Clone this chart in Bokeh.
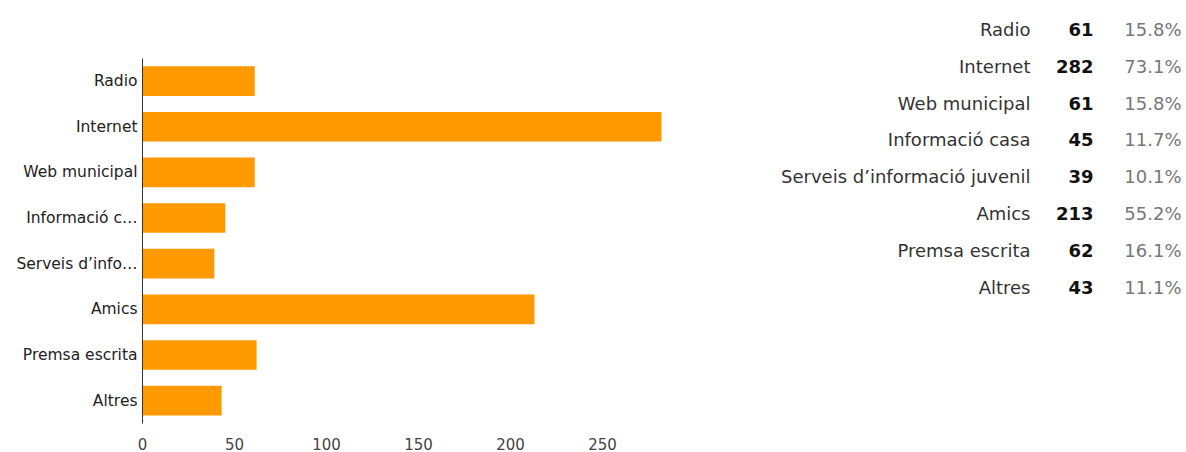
from bokeh.plotting import figure
from bokeh.models import Range1d, FixedTicker
from bokeh.core.properties import value
from bokeh.embed import file_html
from bokeh.resources import INLINE

categories = ["Radio", "Internet", "Web municipal", "Informació casa",
              "Serveis d’informació juvenil", "Amics", "Premsa escrita", "Altres"]
axis_labels = ["Radio", "Internet", "Web municipal", "Informació c…",
               "Serveis d’info…", "Amics", "Premsa escrita", "Altres"]
counts = [61, 282, 61, 45, 39, 213, 62, 43]
percents = ["15.8%", "73.1%", "15.8%", "11.7%", "10.1%", "55.2%", "16.1%", "11.1%"]
x_ticks = [0, 50, 100, 150, 200, 250]

FONT = "DejaVu Sans"
ORANGE = "#ff9900"

# layout (canvas px)
W, H = 1186, 452
FRAME_TOP = 0                 # frame spans the table area too
BAR_TOP, BAR_BOTTOM = 58, 425 # vertical extent of the bar chart / y axis
LEFT, BAR_RIGHT = 142, 661    # axis x position, end of the value axis

n = len(categories)
rows = list(range(n))

band = (BAR_BOTTOM - BAR_TOP) / n
y_top_val = -0.5 - (BAR_TOP - FRAME_TOP) / band
x_end_val = max(counts) * (W - LEFT) / (BAR_RIGHT - LEFT)

p = figure(width=W, height=H, output_backend="svg", toolbar_location=None,
           y_range=Range1d(n - 0.5, y_top_val),
           x_range=Range1d(0, x_end_val),
           min_border_left=LEFT, min_border_right=0,
           min_border_top=FRAME_TOP, min_border_bottom=H - BAR_BOTTOM)
p.hbar(y=rows, right=counts, left=0, height=0.65,
       fill_color=ORANGE, line_color=None)
p.outline_line_color = None
p.grid.visible = False

p.xaxis.ticker = FixedTicker(ticks=x_ticks)
p.xaxis.axis_line_color = None
p.xaxis.major_tick_line_color = None
p.xaxis.minor_tick_line_color = None
p.xaxis.major_tick_out = 0
p.xaxis.major_label_standoff = 14
p.xaxis.major_label_text_font = FONT
p.xaxis.major_label_text_font_size = "15px"
p.xaxis.major_label_text_color = "#444444"

p.yaxis.ticker = FixedTicker(ticks=rows, minor_ticks=[])
p.yaxis.bounds = (-0.5, n - 0.5)
p.yaxis.major_label_overrides = {i: lab for i, lab in zip(rows, axis_labels)}
p.yaxis.axis_line_color = "#333333"
p.yaxis.axis_line_width = 1
p.yaxis.major_tick_line_color = None
p.yaxis.minor_tick_line_color = None
p.yaxis.major_tick_out = 0
p.yaxis.major_label_standoff = 5
p.yaxis.major_label_text_font = FONT
p.yaxis.major_label_text_font_size = "15.5px"
p.yaxis.major_label_text_color = "#222222"

# table on the right: pixel-like x range and a row-index y range
ROW0, STEP = 29, 37.0
frame_h = H - FRAME_TOP - (H - BAR_BOTTOM)
p.extra_x_ranges = {"px": Range1d(LEFT, W)}
p.extra_y_ranges = {"tab": Range1d((FRAME_TOP + frame_h - ROW0) / STEP,
                                   (FRAME_TOP - ROW0) / STEP)}

common = dict(y=rows, x_range_name="px", y_range_name="tab",
              text_align="right", text_baseline="middle",
              text_font=value(FONT), text_font_size="18px")
p.text(x=[1030] * n, text=categories, text_color="#333333", **common)
p.text(x=[1093] * n, text=[str(c) for c in counts], text_color="#111111",
       text_font_style="bold", **common)
p.text(x=[1181] * n, text=percents, text_color="#777777", **common)

open("out.html", "w").write(file_html(p, INLINE))
